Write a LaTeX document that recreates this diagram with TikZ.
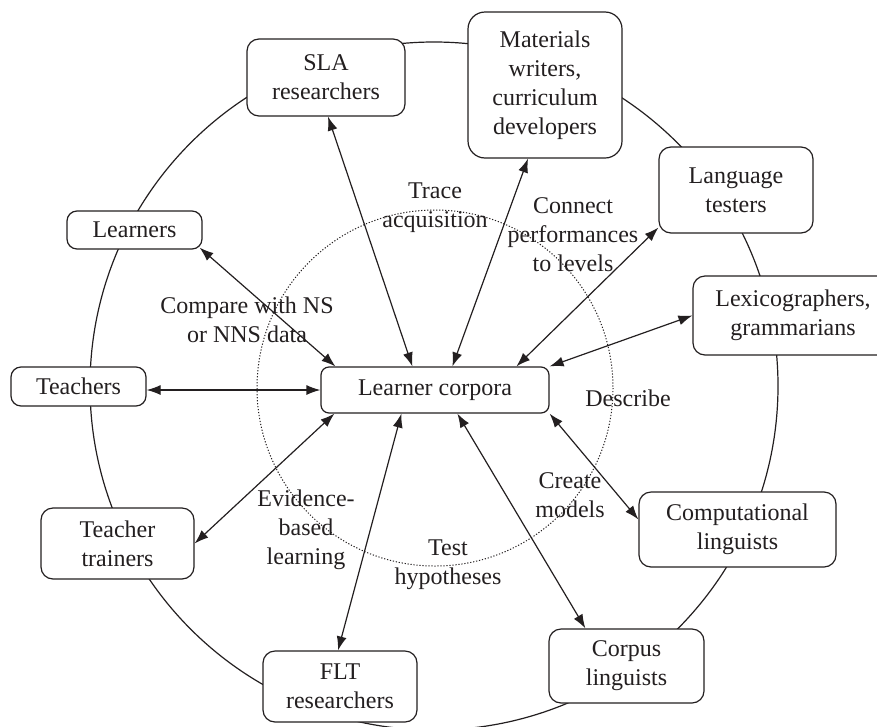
\documentclass[tikz,border=0pt]{standalone}
\usepackage{fontspec}
\setmainfont{Liberation Serif}
\usetikzlibrary{arrows.meta,calc}
\definecolor{ink}{HTML}{231F20}
\tikzset{
 box/.style={draw=ink, line width=1.2pt, fill=white, rounded corners=12pt, align=center, inner sep=0pt, font=\fontsize{24}{29}\selectfont, text=ink},
 lbl/.style={align=center, inner sep=0pt, font=\fontsize{24}{29}\selectfont, text=ink},
 conn/.style={draw=ink, line width=1.2pt, {Latex[length=14pt,width=10pt]}-{Latex[length=14pt,width=10pt]}},
 ring/.style={draw=ink, line width=1.2pt},
 dotring/.style={draw=ink, line width=1pt, dash pattern=on 1.2pt off 1.8pt}
}
\begin{document}
\begin{tikzpicture}[x=1pt,y=-1pt]
\useasboundingbox (0,0) rectangle (877,726);
\clip (0,0) rectangle (877,726);
\draw[ring] (434,386) circle[radius=344];
\draw[dotring] (435,388) circle[radius=178];

\node[box, minimum width=158pt, minimum height=77pt] (sla) at (326,77.5) {SLA\\researchers};
\node[box, rounded corners=17pt, minimum width=154pt, minimum height=146pt] (mat) at (545,85) {Materials\\writers,\\curriculum\\developers};
\node[box, minimum width=154pt, minimum height=86pt] (lang) at (736,190) {Language\\testers};
\node[box, minimum width=200pt, minimum height=79pt] (lex) at (793,315.5) {Lexicographers,\\grammarians};
\node[box, rounded corners=10pt, minimum width=135pt, minimum height=38pt] (lrn) at (134.5,230) {Learners};
\node[box, rounded corners=10pt, minimum width=135pt, minimum height=39pt] (tea) at (78.5,386.5) {Teachers};
\node[box, rounded corners=8pt, minimum width=228pt, minimum height=46pt] (lc) at (435,390) {Learner corpora};
\node[box, minimum width=153pt, minimum height=71pt] (tt) at (117.5,543.5) {Teacher\\trainers};
\node[box, minimum width=154pt, minimum height=71pt] (flt) at (340,686.5) {FLT\\researchers};
\node[box, minimum width=197pt, minimum height=75pt] (comp) at (737.5,529.5) {Computational\\linguists};
\node[box, minimum width=155pt, minimum height=74pt] (corp) at (626.5,666) {Corpus\\linguists};

\draw[conn] ($(lrn.south east)+(-3,-2)$) -- ($(lc.north west)+(15,0)$);
\draw[conn] ($(sla.south)+(2,0)$) -- ($(lc.north west)+(92,0)$);
\draw[conn] ($(mat.south)+(-17,0)$) -- ($(lc.north west)+(132,0)$);
\draw[conn] ($(lang.south west)+(0,-6)$) -- ($(lc.north west)+(196,0)$);
\draw[conn] (lex.west) -- (lc.north east);
\draw[conn] (lc.west -| tea.east) -- (lc.west);
\draw[conn] (tt.east) -- ($(lc.south west)+(14,0)$);
\draw[conn] ($(flt.north)+(-2,0)$) -- ($(lc.south west)+(81,0)$);
\draw[conn] ($(corp.north west)+(37,0)$) -- ($(lc.south west)+(137,0)$);
\draw[conn] ($(comp.west)+(0,-10)$) -- (lc.south east);

\node[lbl] (trace) at (435,208) {Trace\\acquisition};
\node[lbl] (connect) at (573,235) {Connect\\performances\\to levels};
\node[lbl] (compare) at (247,320) {Compare with NS\\or NNS data};
\node[lbl] (describe) at (628,398) {Describe};
\node[lbl] (create) at (570,495) {Create\\models};
\node[lbl] (test) at (448,565) {Test\\hypotheses};
\node[lbl] (evid) at (306,530) {Evidence-\\based\\learning};
\end{tikzpicture}
\end{document}
